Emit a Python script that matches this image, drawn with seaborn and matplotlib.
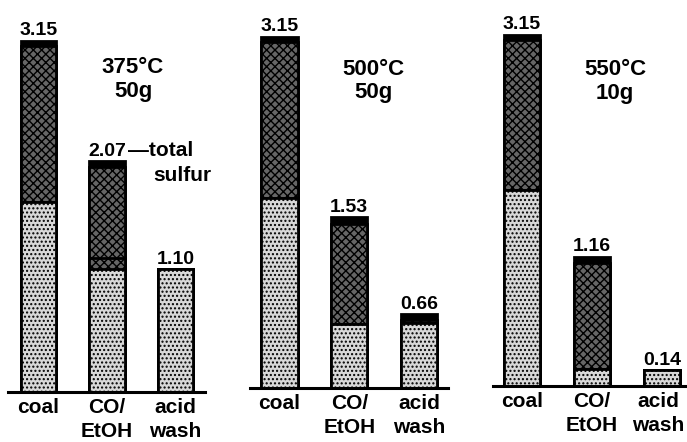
import numpy as np
import pandas as pd
import matplotlib
matplotlib.use("Agg")
import matplotlib.pyplot as plt
import matplotlib.transforms as mtrans
import seaborn as sns

# ---------------- data ----------------
samples = ["coal", "CO/\nEtOH", "acid\nwash"]
conditions = ["375°C\n50g", "500°C\n50g", "550°C\n10g"]
total_labels = [[3.15, 2.07, 1.10], [3.15, 1.53, 0.66], [3.15, 1.16, 0.14]]
pyritic = [[1.70, 1.10, 1.10], [1.70, 0.57, 0.58], [1.76, 0.15, 0.14]]
organic_lower = [[0.00, 0.10, 0.00], [0.00, 0.00, 0.00], [0.00, 0.00, 0.00]]
organic = [[1.40, 0.82, 0.00], [1.40, 0.90, 0.03], [1.34, 0.95, 0.00]]
sulfate = [[0.05, 0.05, 0.00], [0.05, 0.06, 0.05], [0.05, 0.06, 0.00]]

# ---------------- style ----------------
sns.set_style("white")
plt.rcParams["font.family"] = ["Liberation Sans", "DejaVu Sans"]
plt.rcParams["hatch.linewidth"] = 1.0
plt.rcParams["text.color"] = "black"
plt.rcParams["xtick.color"] = "black"
plt.rcParams["xtick.labelcolor"] = "black"

W, H = 687, 442
fig = plt.figure(figsize=(W / 100, H / 100), dpi=100)

# panel layout in pixels: (left, right, baseline)
layout = [(8, 205, 392), (250, 448, 388), (493, 687, 386)]
xlims = [(-0.445, 2.431), (-0.423, 2.416), (-0.414, 2.357)]
px_per_unit = 111.5
ymax = 3.45
title_pos = [(1.38, 3.00), (1.34, 2.95), (1.33, 2.93)]

light_face = "#d8d8d8"
dark_face = "#666666"

for p in range(3):
    left, right, base = layout[p]
    h_px = ymax * px_per_unit
    ax = fig.add_axes([left / W, (H - base) / H, (right - left) / W, h_px / H])

    pyr = np.array(pyritic[p])
    low = np.array(organic_lower[p])
    org = np.array(organic[p])
    sul = np.array(sulfate[p])
    df = pd.DataFrame({
        "sample": samples,
        "c4": pyr + low + org + sul,
        "c3": pyr + low + org,
        "c2": pyr + low,
        "c1": pyr,
    })

    layers = [("c4", "black", None), ("c3", dark_face, "xxxx"),
              ("c2", dark_face, "xxxx"), ("c1", light_face, "....")]
    for col, face, hatch in layers:
        sns.barplot(data=df, x="sample", y=col, order=samples, color=face,
                    saturation=1, width=0.52, edgecolor="black", linewidth=2.0,
                    hatch=hatch, errorbar=None, ax=ax)

    ax.set_xlim(*xlims[p])
    ax.set_ylim(0, ymax)
    ax.set_xlabel("")
    ax.set_ylabel("")
    ax.set_yticks([])
    ax.set_xticks(range(3))
    ax.set_xticklabels(samples, fontsize=15, fontweight="bold", linespacing=1.3,
                       color="black")
    ax.tick_params(axis="x", length=0, pad=4.5)
    if p == 2:
        lab = ax.get_xticklabels()[2]
        lab.set_transform(lab.get_transform() +
                          mtrans.ScaledTranslation(-4 / 100, 0, fig.dpi_scale_trans))
    for s in ["left", "right", "top"]:
        ax.spines[s].set_visible(False)
    ax.spines["bottom"].set_linewidth(2.2)
    ax.spines["bottom"].set_color("black")
    ax.patch.set_alpha(0)

    for i, v in enumerate(total_labels[p]):
        top = df["c4"].iloc[i]
        ax.annotate(f"{v:.2f}", (i, top), xytext=(0, 4), textcoords="offset points",
                    ha="center", va="baseline", fontsize=14, fontweight="bold",
                    annotation_clip=False)

    tx, ty = title_pos[p]
    ax.text(tx, ty, conditions[p], ha="center", va="top", fontsize=16,
            fontweight="bold", linespacing=1.15)

    if p == 0:
        top = df["c4"].iloc[1]
        ax.annotate("—total", (1.31, top), xytext=(0, 4), textcoords="offset points",
                    ha="left", va="baseline", fontsize=15, fontweight="bold")
        ax.text(1.68, top - 0.18, "sulfur", ha="left", va="baseline",
                fontsize=15, fontweight="bold")

fig.savefig("out.png", dpi=100)
